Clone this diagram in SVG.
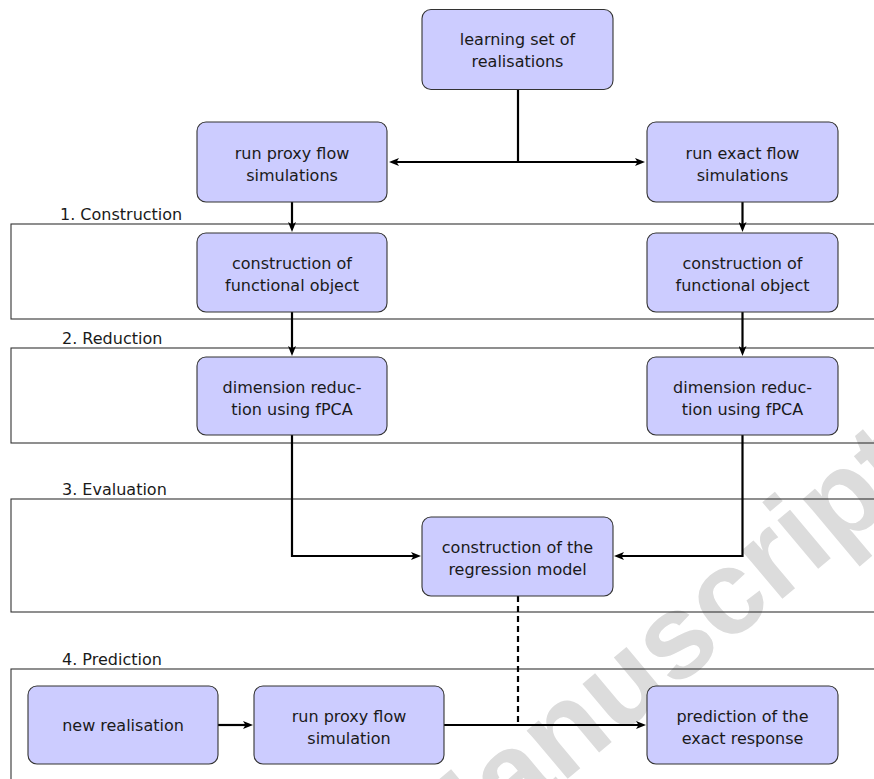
<svg xmlns="http://www.w3.org/2000/svg" width="874" height="779" viewBox="0 0 874 779">
  <style>
    .box { fill: #ccccff; stroke: #333333; stroke-width: 1.1; }
    .panel { fill: none; stroke: #333333; stroke-width: 1.1; }
    .t { font-family: "DejaVu Sans", "Liberation Sans", sans-serif; font-size: 16px; fill: #1a1a1a; text-anchor: middle; }
    .lab { font-family: "DejaVu Sans", "Liberation Sans", sans-serif; font-size: 16px; fill: #1a1a1a; }
    .c { fill: none; stroke: #000000; stroke-width: 2.2; }
    .arr { marker-end: url(#ah); }
    .dash { stroke-dasharray: 6 4; }
    .wm { font-family: "Liberation Sans", Arial, sans-serif; font-weight: bold; font-size: 120px; fill: #dcdcdc; text-anchor: end; }
  </style>
  <defs>
    <marker id="ah" viewBox="0 0 10 8" refX="6" refY="4" markerWidth="10" markerHeight="8" markerUnits="userSpaceOnUse" orient="auto">
      <path d="M0,0 L10,4 L0,8 L2.5,4 Z" fill="#000000"/>
    </marker>
  </defs>
  <rect width="874" height="779" fill="#ffffff"/>
  <text class="wm" transform="translate(924,480) rotate(-40)">Accepted Manuscript</text>

  <g id="panels">
    <g id="panel-construction">
      <rect class="panel" x="11" y="224" width="900" height="95"/>
      <text class="lab" x="60" y="220">1. Construction</text>
    </g>
    <g id="panel-reduction">
      <rect class="panel" x="11" y="348" width="900" height="95"/>
      <text class="lab" x="62" y="344">2. Reduction</text>
    </g>
    <g id="panel-evaluation">
      <rect class="panel" x="11" y="499" width="900" height="113"/>
      <text class="lab" x="62" y="495">3. Evaluation</text>
    </g>
    <g id="panel-prediction">
      <rect class="panel" x="11" y="669" width="900" height="200"/>
      <text class="lab" x="62" y="665">4. Prediction</text>
    </g>
  </g>

  <g id="connectors">
    <path class="c" d="M518,89 V162"/>
    <path class="c arr" d="M518,162 H393"/>
    <path class="c arr" d="M518,162 H641"/>
    <path class="c arr" d="M292,202 V228"/>
    <path class="c arr" d="M742.5,202 V228"/>
    <path class="c arr" d="M292,312 V352"/>
    <path class="c arr" d="M742.5,312 V352"/>
    <path class="c arr" d="M292,435 V556 H417"/>
    <path class="c arr" d="M742.5,435 V556 H618"/>
    <path class="c dash" d="M518,596 V725"/>
    <path class="c arr" d="M218,725 H249"/>
    <path class="c arr" d="M444,725 H642"/>
  </g>

  <g id="node-learning">
    <rect class="box" x="422" y="9.5" width="191" height="80" rx="9"/>
    <text class="t" x="517.5" y="45">learning set of</text>
    <text class="t" x="517.5" y="67">realisations</text>
  </g>
  <g id="node-proxy">
    <rect class="box" x="197" y="122" width="190" height="80" rx="9"/>
    <text class="t" x="292" y="158.5">run proxy flow</text>
    <text class="t" x="292" y="180.5">simulations</text>
  </g>
  <g id="node-exact">
    <rect class="box" x="647" y="122" width="191" height="80" rx="9"/>
    <text class="t" x="742.5" y="158.5">run exact flow</text>
    <text class="t" x="742.5" y="180.5">simulations</text>
  </g>
  <g id="node-func-left">
    <rect class="box" x="197" y="233" width="190" height="79" rx="9"/>
    <text class="t" x="292" y="269">construction of</text>
    <text class="t" x="292" y="291">functional object</text>
  </g>
  <g id="node-func-right">
    <rect class="box" x="647" y="233" width="191" height="79" rx="9"/>
    <text class="t" x="742.5" y="269">construction of</text>
    <text class="t" x="742.5" y="291">functional object</text>
  </g>
  <g id="node-dim-left">
    <rect class="box" x="197" y="357" width="190" height="78" rx="9"/>
    <text class="t" x="292" y="392.5">dimension reduc-</text>
    <text class="t" x="292" y="414.5">tion using fPCA</text>
  </g>
  <g id="node-dim-right">
    <rect class="box" x="647" y="357" width="191" height="78" rx="9"/>
    <text class="t" x="742.5" y="392.5">dimension reduc-</text>
    <text class="t" x="742.5" y="414.5">tion using fPCA</text>
  </g>
  <g id="node-regression">
    <rect class="box" x="422" y="517" width="191" height="79" rx="9"/>
    <text class="t" x="517.5" y="553">construction of the</text>
    <text class="t" x="517.5" y="575">regression model</text>
  </g>
  <g id="node-new">
    <rect class="box" x="28" y="686" width="190" height="78" rx="9"/>
    <text class="t" x="123" y="731">new realisation</text>
  </g>
  <g id="node-proxy-sim">
    <rect class="box" x="254" y="686" width="190" height="78" rx="9"/>
    <text class="t" x="349" y="721.5">run proxy flow</text>
    <text class="t" x="349" y="743.5">simulation</text>
  </g>
  <g id="node-prediction">
    <rect class="box" x="647" y="686" width="191" height="78" rx="9"/>
    <text class="t" x="742.5" y="721.5">prediction of the</text>
    <text class="t" x="742.5" y="743.5">exact response</text>
  </g>
</svg>
